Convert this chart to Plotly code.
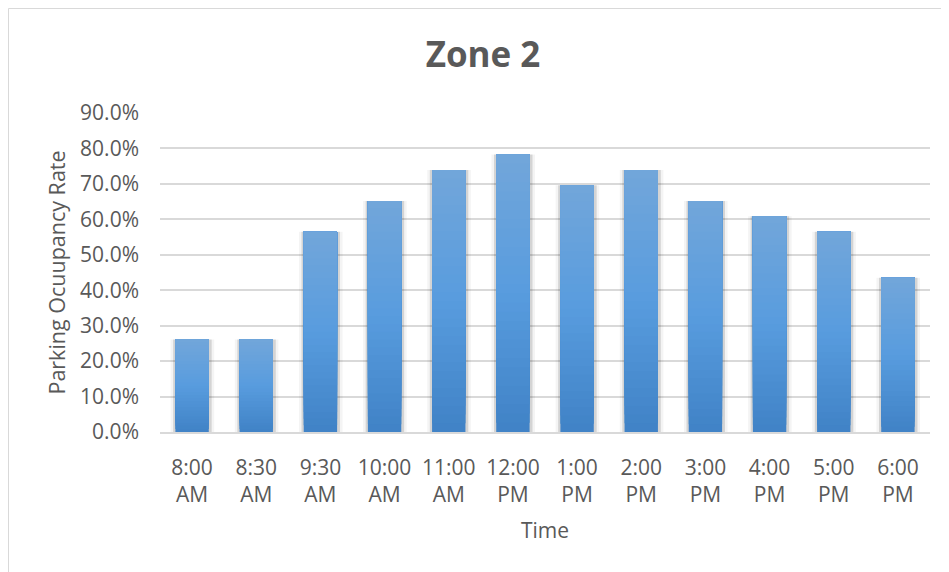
import plotly.graph_objects as go

categories = ["8:00<br>AM", "8:30<br>AM", "9:30<br>AM", "10:00<br>AM", "11:00<br>AM", "12:00<br>PM",
              "1:00<br>PM", "2:00<br>PM", "3:00<br>PM", "4:00<br>PM", "5:00<br>PM", "6:00<br>PM"]
occupancy = [0.261, 0.261, 0.565, 0.652, 0.739, 0.783, 0.696, 0.739, 0.652, 0.609, 0.565, 0.435]
y_ticks = [0.0, 0.1, 0.2, 0.3, 0.4, 0.5, 0.6, 0.7, 0.8, 0.9]

TEXT = "#595959"
FONT = "Open Sans"

W, H = 941, 564
L, R, T, B = 152, 19, 105, 140

fig = go.Figure()

# soft shadow behind bars
fig.add_trace(go.Bar(x=categories, y=occupancy, width=0.68, offset=-0.335,
                     marker=dict(color="rgba(0,0,0,0.045)", line=dict(width=0)),
                     hoverinfo="skip", showlegend=False))
fig.add_trace(go.Bar(x=categories, y=occupancy, width=0.6, offset=-0.295,
                     marker=dict(color="rgba(0,0,0,0.13)", line=dict(width=0)),
                     hoverinfo="skip", showlegend=False))

# vertical gradient: overlapping slices, each from its base up to the bar top
N = 30
top = (114, 166, 218)
mid = (88, 156, 222)
bot = (64, 130, 198)

def lerp(a, b, t):
    return tuple(round(a[i] + (b[i] - a[i]) * t) for i in range(3))

for i in range(N):
    t = (i + 0.5) / N  # 0 bottom -> 1 top
    if t < 0.5:
        c = lerp(bot, mid, t / 0.5)
    else:
        c = lerp(mid, top, (t - 0.5) / 0.5)
    fig.add_trace(go.Bar(
        x=categories,
        y=[v * (N - i) / N for v in occupancy],
        base=[v * i / N for v in occupancy],
        width=0.52,
        marker=dict(color="rgb(%d,%d,%d)" % c, line=dict(width=0)),
        hovertemplate="%{x}: %{customdata:.1%}<extra></extra>",
        customdata=occupancy,
        showlegend=False,
    ))

fig.update_layout(
    barmode="overlay",
    width=W, height=H,
    margin=dict(l=L, r=R, t=T, b=B),
    paper_bgcolor="white", plot_bgcolor="white",
    font=dict(family=FONT, color=TEXT, size=21),
    title=dict(text="<b>Zone 2</b>", x=(483 - 8) / W, xanchor="center", y=1 - 47 / H, yanchor="middle",
               xref="container", yref="container", font=dict(family=FONT, size=35, color=TEXT)),
    xaxis=dict(title=dict(text="Time", font=dict(size=21, color=TEXT), standoff=16),
               showgrid=False, showline=True, linecolor="#D9D9D9", linewidth=1.5,
               ticks="", tickfont=dict(size=21, color=TEXT), ticklabelstandoff=16),
    yaxis=dict(title=dict(text="Parking Ocuupancy Rate", font=dict(size=21.5, color=TEXT), standoff=8),
               range=[0, 0.9], tickvals=y_ticks, tickformat=".1%",
               showgrid=True, gridcolor="#D9D9D9", gridwidth=1.5, zeroline=False,
               showline=False, ticks="", tickfont=dict(size=21, color=TEXT), ticklabelstandoff=20),
    shapes=[dict(type="rect", xref="paper", yref="paper",
                 x0=(0.5 - L) / 770, x1=1.2, y0=-0.6, y1=(T - 0.5) / 319 + 1,
                 line=dict(color="#D9D9D9", width=1), fillcolor="rgba(0,0,0,0)", layer="below")],
)

fig.write_html("out.html")
